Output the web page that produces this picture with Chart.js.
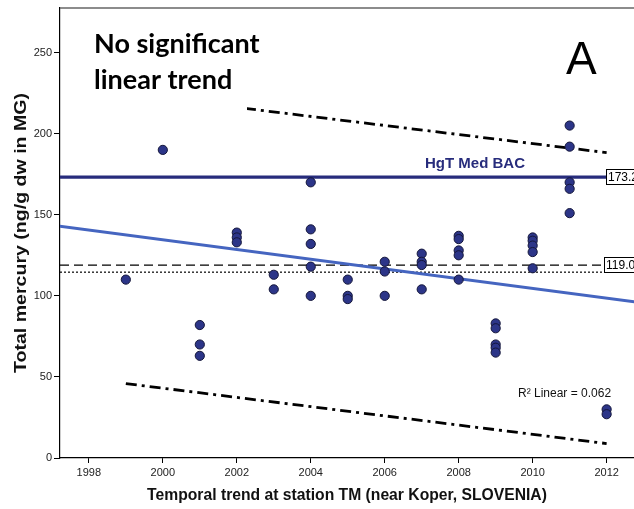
<!DOCTYPE html>
<html>
<head>
<meta charset="utf-8">
<script src="https://cdn.jsdelivr.net/npm/chart.js@4.4.1/dist/chart.umd.min.js"></script>
<style>
  html, body { margin: 0; padding: 0; background: #fff; overflow: hidden; }
  #wrap { width: 634px; height: 509px; position: relative; }
</style>
</head>
<body>
<div id="wrap"><canvas id="chart"></canvas></div>
<script>
// Samples: year and total mercury (ng/g dw in MG)
const sampleYears = [
  1999,
  2000,
  2001, 2001, 2001,
  2002, 2002, 2002,
  2003, 2003,
  2004, 2004, 2004, 2004, 2004,
  2005, 2005, 2005,
  2006, 2006, 2006,
  2007, 2007, 2007, 2007,
  2008, 2008, 2008, 2008, 2008,
  2009, 2009, 2009, 2009, 2009,
  2010, 2010, 2010, 2010, 2010,
  2011, 2011, 2011, 2011, 2011,
  2012, 2012
];
const sampleHg = [
  110,
  190,
  82, 70, 63,
  139, 136, 133,
  113, 104,
  170, 141, 132, 118, 100,
  110, 100, 98,
  121, 115, 100,
  126, 121, 119, 104,
  137, 135, 128, 125, 110,
  83, 80, 70, 68, 65,
  136, 134, 131, 127, 117,
  205, 192, 170, 166, 151,
  30, 27
];

// Linear fit and its prediction band
const fitYears = [1997, 2013];
const fitHg = [143.6, 95.6];
const bandYears = [1999, 2012];
const upperHg = [224.6, 188.3];
const lowerHg = [45.9, 8.9];

// Reference levels
const bacHg = 173.2;
const dashedHg = 119.0;
const dottedHg = 114.6;

// Axes
const xMin = 1997.22, xMax = 2012.74;
const yMin = 0, yMax = 277.5;
const xTicks = [1998, 2000, 2002, 2004, 2006, 2008, 2010, 2012];
const yTicks = [0, 50, 100, 150, 200, 250];

const FONT = "'Liberation Sans', Arial, sans-serif";
const NAVY = '#272c7c';
const Y_TITLE = 'Total mercury (ng/g dw in MG)';

function pairs(xs, ys) {
  return xs.map((x, i) => ({ x, y: ys[i] }));
}

const refYears = [xMin, xMax];

const annotations = {
  id: 'annotations',
  beforeDatasetsDraw(chart) {
    const { ctx, chartArea } = chart;
    ctx.save();
    ctx.strokeStyle = '#666';
    ctx.lineWidth = 1.5;
    ctx.beginPath();
    ctx.moveTo(chartArea.left, chartArea.top);
    ctx.lineTo(chartArea.right, chartArea.top);
    ctx.stroke();
    ctx.restore();
  },
  afterDatasetsDraw(chart) {
    const { ctx, chartArea, scales } = chart;
    const y = scales.y;
    ctx.save();

    // white label box covering the band line
    ctx.fillStyle = '#fff';
    ctx.fillRect(chartArea.left + 1, chartArea.top + 1, 186, 102);
    ctx.fillStyle = '#000';
    ctx.font = "bold 27px Lato, 'Open Sans', sans-serif";
    ctx.textBaseline = 'alphabetic';
    ctx.textAlign = 'left';
    ctx.fillText('No significant', 94, 53);
    ctx.fillText('linear trend', 94, 89);

    ctx.font = '46px ' + FONT;
    ctx.fillText('A', 566, 74);

    ctx.fillStyle = NAVY;
    ctx.font = 'bold 15px ' + FONT;
    ctx.textAlign = 'center';
    ctx.fillText('HgT Med BAC', 475, y.getPixelForValue(bacHg) - 9);

    // value boxes at the right edge
    ctx.font = '12px ' + FONT;
    ctx.textAlign = 'left';
    ctx.textBaseline = 'middle';
    [[bacHg, '173.2', 606], [dashedHg, '119.0', 604]].forEach(([v, t, left]) => {
      const py = Math.round(y.getPixelForValue(v));
      ctx.fillStyle = '#fff';
      ctx.fillRect(left, py - 8, 40, 16);
      ctx.strokeStyle = '#000';
      ctx.lineWidth = 1;
      ctx.strokeRect(left + 0.5, py - 7.5, 40, 15);
      ctx.fillStyle = '#000';
      ctx.fillText(t, left + 2, py + 0.5);
    });

    ctx.font = '12px ' + FONT;
    ctx.textBaseline = 'alphabetic';
    ctx.fillStyle = '#111';
    ctx.fillText('R\u00B2 Linear = 0.062', 518, 397);

    // y axis title, stretched along its length like the original
    ctx.font = 'bold 16px ' + FONT;
    const w = ctx.measureText(Y_TITLE).width;
    const cy = (chartArea.top + chartArea.bottom) / 2;
    ctx.translate(22, cy);
    ctx.rotate(-Math.PI / 2);
    ctx.scale(280 / w, 1);
    ctx.fillStyle = '#111';
    ctx.textAlign = 'center';
    ctx.textBaseline = 'middle';
    ctx.fillText(Y_TITLE, 0, 0);
    ctx.restore();
  }
};

const lineStyle = { showLine: true, pointRadius: 0, pointHoverRadius: 0, fill: false, tension: 0 };

new Chart(document.getElementById('chart'), {
  type: 'scatter',
  data: {
    datasets: [
      {
        label: 'Samples',
        data: pairs(sampleYears, sampleHg),
        backgroundColor: '#2c3588',
        borderColor: '#14163a',
        borderWidth: 1,
        pointRadius: 4.6,
        order: 0
      },
      Object.assign({
        label: 'HgT Med BAC',
        data: pairs(refYears, [bacHg, bacHg]),
        borderColor: NAVY,
        borderWidth: 3.2,
        order: 2
      }, lineStyle),
      Object.assign({
        label: 'Fit',
        data: pairs(fitYears, fitHg),
        borderColor: '#4565c0',
        borderWidth: 3,
        order: 1
      }, lineStyle),
      Object.assign({
        label: 'Dashed',
        data: pairs(refYears, [dashedHg, dashedHg]),
        borderColor: '#000',
        borderWidth: 1.2,
        borderDash: [9, 5],
        order: 3
      }, lineStyle),
      Object.assign({
        label: 'Dotted',
        data: pairs(refYears, [dottedHg, dottedHg]),
        borderColor: '#000',
        borderWidth: 1.2,
        borderDash: [2, 2],
        order: 3
      }, lineStyle),
      Object.assign({
        label: 'Upper',
        data: pairs(bandYears, upperHg),
        borderColor: '#000',
        borderWidth: 2.8,
        borderDash: [11, 5, 3, 5],
        order: 4
      }, lineStyle),
      Object.assign({
        label: 'Lower',
        data: pairs(bandYears, lowerHg),
        borderColor: '#000',
        borderWidth: 2.8,
        borderDash: [11, 5, 3, 5],
        order: 4
      }, lineStyle)
    ]
  },
  options: {
    responsive: true,
    maintainAspectRatio: false,
    animation: false,
    layout: { autoPadding: false, padding: { top: 8, right: 0, left: 0, bottom: 0 } },
    plugins: {
      legend: { display: false },
      tooltip: { enabled: false }
    },
    scales: {
      x: {
        type: 'linear',
        min: xMin,
        max: xMax,
        afterBuildTicks: (scale) => { scale.ticks = xTicks.map(v => ({ value: v })); },
        afterFit: (scale) => {
          scale.height = 51;
          scale.paddingLeft = 0;
          scale.paddingRight = 0;
        },
        grid: { drawOnChartArea: false, color: '#000', tickLength: 5 },
        border: { color: '#000', width: 1.2 },
        ticks: {
          color: '#222',
          font: { family: FONT, size: 11 },
          padding: 3,
          maxRotation: 0,
          callback: (v) => String(v)
        },
        title: {
          display: true,
          text: 'Temporal trend at station TM (near Koper, SLOVENIA)',
          color: '#111',
          font: { family: FONT, size: 15.7, weight: 'bold' },
          padding: { top: 4, bottom: 4 }
        }
      },
      y: {
        type: 'linear',
        min: yMin,
        max: yMax,
        afterBuildTicks: (scale) => { scale.ticks = yTicks.map(v => ({ value: v })); },
        afterFit: (scale) => {
          scale.width = 60;
          scale.paddingTop = 0;
          scale.paddingBottom = 0;
        },
        grid: { drawOnChartArea: false, color: '#000', tickLength: 6 },
        border: { color: '#000', width: 1.2 },
        ticks: {
          color: '#222',
          font: { family: FONT, size: 11 },
          padding: 2,
          callback: (v) => String(v)
        },
        title: { display: false }
      }
    }
  },
  plugins: [annotations]
});
</script>
</body>
</html>
